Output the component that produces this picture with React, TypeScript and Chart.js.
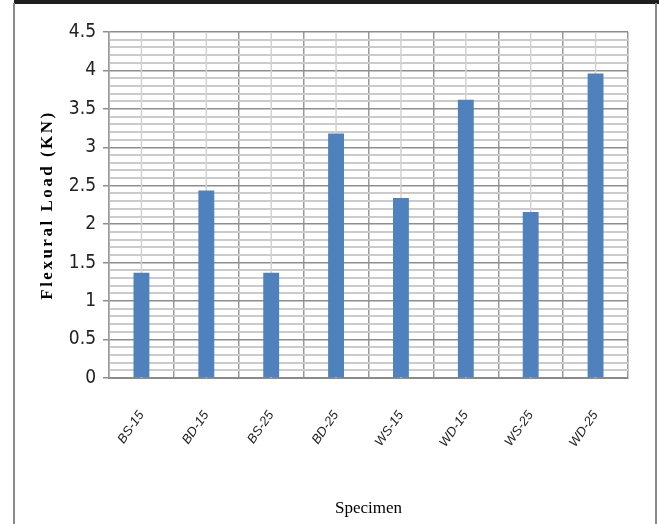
import React, { useEffect, useRef } from "react";
import { Chart, registerables } from "chart.js";

Chart.register(...registerables);

const categories = ["BS-15", "BD-15", "BS-25", "BD-25", "WS-15", "WD-15", "WS-25", "WD-25"];
const flexuralLoad = [1.37, 2.44, 1.37, 3.18, 2.34, 3.62, 2.16, 3.96];
const yMin = 0;
const yMax = 4.5;
const yMinorStep = 0.1;
const yMajorStep = 0.5;
const xTitle = "Specimen";
const yTitle = "Flexural Load (KN)";

const isMajor = (v: number) => Math.abs(v / yMajorStep - Math.round(v / yMajorStep)) < 1e-6;

const decorPlugin = {
  id: "decor",
  beforeDraw(chart: any) {
    const ctx = chart.ctx;
    ctx.save();
    ctx.fillStyle = "#ffffff";
    ctx.fillRect(0, 0, chart.width, chart.height);
    ctx.fillStyle = "#1e1e1e";
    ctx.fillRect(14, 0, chart.width - 14, 4);
    ctx.fillStyle = "#8a8a8a";
    ctx.fillRect(13, 3, 2, chart.height - 3);
    ctx.fillRect(655, 3, 2, chart.height - 3);
    ctx.restore();
  },
  beforeDatasetsDraw(chart: any) {
    const ctx = chart.ctx;
    const xs = chart.scales.x;
    const area = chart.chartArea;
    ctx.save();
    ctx.strokeStyle = "#d2d2d2";
    ctx.lineWidth = 1.5;
    categories.forEach((_, i) => {
      const px = xs.getPixelForValue(i);
      ctx.beginPath();
      ctx.moveTo(px, area.top);
      ctx.lineTo(px, area.bottom);
      ctx.stroke();
    });
    ctx.restore();
  },
  afterDraw(chart: any) {
    const ctx = chart.ctx;
    const area = chart.chartArea;
    ctx.save();
    ctx.font = "bold 17px 'Liberation Serif', 'Times New Roman', serif";
    (ctx as any).letterSpacing = "2.5px";
    ctx.fillStyle = "#000";
    ctx.textAlign = "center";
    ctx.textBaseline = "middle";
    ctx.translate(48, (area.top + area.bottom) / 2);
    ctx.rotate(-Math.PI / 2);
    ctx.fillText(yTitle, 0, 0);
    ctx.restore();
  },
};

export default function App() {
  const canvasRef = useRef<HTMLCanvasElement | null>(null);

  useEffect(() => {
    if (!canvasRef.current) return;
    const chart = new Chart(canvasRef.current, {
      type: "bar",
      data: {
        labels: categories,
        datasets: [
          {
            label: yTitle,
            data: flexuralLoad,
            backgroundColor: "#4f81bd",
            borderWidth: 0,
            categoryPercentage: 1,
            barPercentage: 0.245,
          },
        ],
      },
      plugins: [decorPlugin],
      options: {
        animation: false,
        responsive: false,
        devicePixelRatio: 1,
        layout: { padding: { top: 32, right: 31, left: 0, bottom: 0 } },
        plugins: {
          legend: { display: false },
          tooltip: { enabled: false },
          title: { display: false },
        },
        scales: {
          x: {
            offset: true,
            afterFit: (scale: any) => {
              scale.height = 146;
            },
            grid: {
              offset: true,
              drawTicks: false,
              color: "#9a9a9a",
              lineWidth: 1.5,
            },
            border: { display: true, color: "#8a8a8a", width: 2 },
            ticks: {
              minRotation: 55,
              maxRotation: 55,
              padding: 30,
              color: "#222",
              font: { family: "'Liberation Sans', Arial, sans-serif", size: 13, style: "italic" },
            },
            title: {
              display: true,
              text: xTitle,
              color: "#000",
              font: { family: "'Liberation Serif', 'Times New Roman', serif", size: 17 },
              padding: { top: 0, bottom: 5 },
            },
          },
          y: {
            min: yMin,
            max: yMax,
            afterFit: (scale: any) => {
              scale.width = 109;
            },
            grid: {
              drawTicks: true,
              tickLength: 6,
              color: (ctx: any) => (ctx.tick && isMajor(ctx.tick.value) ? "#8e8e8e" : "#cbcbcb"),
              tickColor: (ctx: any) => (ctx.tick && isMajor(ctx.tick.value) ? "#8e8e8e" : "rgba(0,0,0,0)"),
              lineWidth: (ctx: any) => (ctx.tick && isMajor(ctx.tick.value) ? 1.5 : 2),
            },
            border: { display: true, color: "#9a9a9a", width: 1.5 },
            ticks: {
              stepSize: yMinorStep,
              autoSkip: false,
              padding: 7,
              color: "#222",
              font: { family: "'DejaVu Sans Condensed', 'Liberation Sans Narrow', sans-serif", size: 19 },
              callback: (v: any) => (isMajor(Number(v)) ? String(Math.round(Number(v) * 10) / 10) : ""),
            },
          },
        },
      },
    });
    return () => chart.destroy();
  }, []);

  return (
    <div style={{ position: "absolute", left: 0, top: 0, width: 659, height: 524 }}>
      <canvas ref={canvasRef} width={659} height={524} style={{ display: "block", width: 659, height: 524 }} />
    </div>
  );
}
